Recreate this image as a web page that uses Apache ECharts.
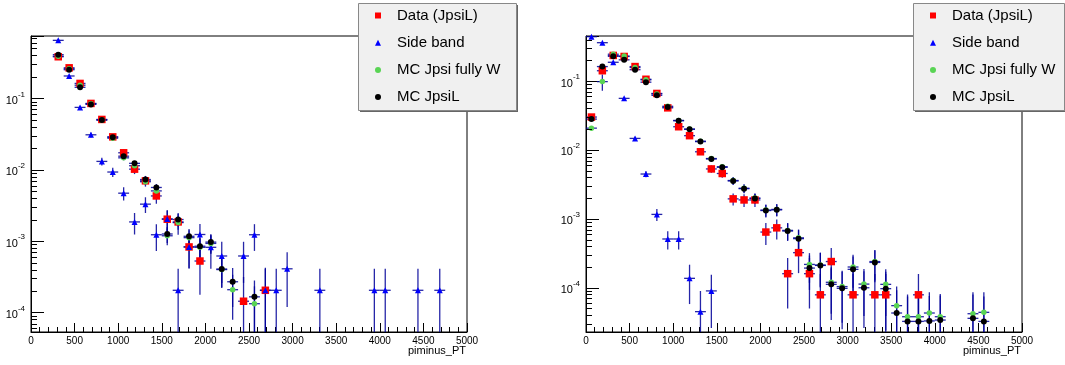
<!DOCTYPE html>
<html><head><meta charset="utf-8">
<script src="https://cdn.jsdelivr.net/npm/echarts@6/dist/echarts.min.js"></script>
<style>html,body{margin:0;padding:0;background:#fff}#c{width:1065px;height:365px}</style>
</head><body><div id="c"></div>
<script>
// ---- data ----
const binCenters = [62.5,187.5,312.5,437.5,562.5,687.5,812.5,937.5,1062.5,1187.5,
  1312.5,1437.5,1562.5,1687.5,1812.5,1937.5,2062.5,2187.5,2312.5,2437.5,
  2562.5,2687.5,2812.5,2937.5,3062.5,3187.5,3312.5,3437.5,3562.5,3687.5,
  3812.5,3937.5,4062.5,4187.5,4312.5,4437.5,4562.5,4687.5,4812.5,4937.5];
const binHalfWidth = 62.5;
const seriesNames = ['Data (JpsiL)','Side band','MC Jpsi fully W','MC JpsiL'];
const xTickLabels = ['0','500','1000','1500','2000','2500','3000','3500','4000','4500','5000'];
const yTickExponents = ['-4','-3','-2','-1'];
const xTitle = 'piminus_PT';

// left panel
const L_data = [null,null,0.383,0.268,0.162,0.085,0.0507,0.0289,0.0173,0.0102,
  0.0070,0.0043,0.00203,0.00186,0.00083,0.000527,null,null,null,0.000144,
  null,0.000205];
const L_dataErr = [null,null,0.009,0.0075,0.0058,0.0042,0.0033,0.0025,0.0019,0.0015,
  0.0012,0.00095,0.00065,0.00063,0.00042,0.00035,null,null,null,0.00017,
  null,0.00022];
const L_side = [null,null,0.65,0.206,0.0748,0.0309,0.0131,0.0093,0.0047,0.00186,
  0.0033,0.00123,0.00205,0.000205,0.00083,0.00124,0.00082,0.00062,null,0.00062,
  0.00123,0.000205,0.000205,0.00041,null,null,0.000205,null,null,null,
  null,0.000205,0.000205,null,null,0.000205,null,0.000205];
const L_sideErr = [null,null,0.0115,0.0065,0.0039,0.0025,0.0016,0.0014,0.00098,0.00062,
  0.00082,0.0005,0.00065,0.000205,0.00041,0.0005,0.00041,0.00036,null,0.00036,
  0.0005,0.000205,0.000205,0.00029,null,null,0.000205,null,null,null,
  null,0.000205,0.000205,null,null,0.000205,null,0.000205];
const L_mcW = [null,null,0.39,0.26,0.153,0.084,0.050,0.0277,0.0147,0.0114,
  0.0068,0.00506,0.00119,0.00182,0.00112,0.00082,0.00093,0.0004,0.000209,null,
  0.000133];
const L_mcWErr = [null,null,0.0055,0.0045,0.0034,0.0026,0.002,0.0015,0.0011,0.00095,
  0.00074,0.00064,0.00031,0.00038,0.0003,0.00026,0.00027,0.00018,0.00013,null,
  0.0001];
const L_mc = [null,null,0.41,0.252,0.143,0.0824,0.0496,0.0286,0.0155,0.0123,
  0.0073,0.00565,0.00126,0.00201,0.00117,0.00085,0.00097,0.000407,0.00027,null,
  0.000166];
const L_mcErr = [null,null,0.0057,0.0045,0.0034,0.0026,0.002,0.0015,0.0011,0.001,
  0.00076,0.00067,0.00032,0.0004,0.00031,0.00026,0.00028,0.00018,0.00015,null,
  0.000115];

// right panel
const R_data = [0.030,0.141,0.235,0.227,0.162,0.106,0.066,0.0408,0.0217,0.0161,
  0.0094,0.0053,0.00455,0.00195,0.00188,0.00188,0.000643,0.00074,0.00016,0.000323,
  0.00016,0.000079,0.00024,null,0.000079,null,0.000079,0.000079,null,null,
  0.000079];
const R_dataErr = [0.0015,0.0033,0.0043,0.0042,0.0036,0.0029,0.0023,0.0018,0.0013,0.0011,
  0.00086,0.00065,0.0006,0.00039,0.00039,0.00039,0.000225,0.00024,0.00011,0.00016,
  0.00011,0.000079,0.000138,null,0.000079,null,0.000079,0.000079,null,null,
  0.000079];
const R_side = [0.44,0.36,0.187,0.056,0.0147,0.00447,0.00116,0.00051,0.00051,0.000137,
  0.000045,0.00009];
const R_sideErr = [0.0044,0.004,0.0029,0.0016,0.00081,0.00045,0.00023,0.00015,0.00015,0.000079,
  0.000045,0.000064];
const R_mcW = [0.0207,0.098,0.245,0.23,0.157,0.104,0.065,0.043,0.0268,0.0201,
  0.0134,0.0075,0.0057,0.0036,0.00278,0.0020,0.00134,0.00137,0.00068,0.00053,
  0.000218,0.000213,0.00012,0.000104,0.0002,0.000113,0.00024,0.000112,0.000055,0.000038,
  0.000038,0.000043,0.000038,null,null,0.000042,0.000044];
const R_mcWErr = [0.0008,0.026,0.0036,0.0034,0.0029,0.0023,0.0018,0.0015,0.0012,0.001,
  0.00085,0.00064,0.00055,0.00044,0.00039,0.00033,0.00027,0.00027,0.00019,0.00017,
  0.0001,0.00011,0.000078,0.000073,0.0001,0.000074,0.000113,0.000073,0.000049,0.000042,
  0.000042,0.000043,0.000043,null,null,0.000044,0.000042];
const R_mc = [0.028,0.162,0.228,0.203,0.146,0.0962,0.062,0.0418,0.0265,0.0199,
  0.0132,0.0074,0.0056,0.00355,0.00274,0.00198,0.00132,0.00135,0.000665,0.000516,
  0.000193,0.000211,0.000112,0.000098,0.000185,0.0001,0.000233,0.000097,0.000043,0.0000325,
  0.0000325,0.000033,0.000034,null,null,0.000036,0.0000325];
const R_mcErr = [0.0012,0.003,0.0035,0.0033,0.0028,0.0023,0.0018,0.0015,0.0012,0.001,
  0.00085,0.00064,0.00055,0.00044,0.00039,0.00033,0.00027,0.00027,0.00019,0.00017,
  0.0001,0.00011,0.000078,0.000073,0.0001,0.000074,0.000113,0.000073,0.000049,0.000042,
  0.000042,0.000043,0.000043,null,null,0.000044,0.000042];

// ---- styling ----
const FONT = "'Liberation Sans', Arial, Helvetica, sans-serif";
const colors = ['#ff0000','#0000ff','#59d454','#000000'];
const symbols = ['rect','triangle','circle','circle'];
const symbolSizes = [7.5,6,5.5,6];
const errColor = '#000099';
const minorMantissas = [2,3,4,5,6,7,8,9];
const decades = [1e-5,1e-4,1e-3,1e-2,1e-1];

const panels = [
  {left:31, yMin:5.34e-5, yMax:0.748, sets:[[L_data,L_dataErr],[L_side,L_sideErr],[L_mcW,L_mcWErr],[L_mc,L_mcErr]], legendX:358, legendW:158},
  {left:586, yMin:2.28e-5, yMax:0.45, sets:[[R_data,R_dataErr],[R_side,R_sideErr],[R_mcW,R_mcWErr],[R_mc,R_mcErr]], legendX:913, legendW:151}
];
const GT = 36, GH = 296, GW = 436;

function pts(vals, errs){
  const out = [];
  vals.forEach((v,i)=>{ if(v!=null) out.push([binCenters[i], v, errs[i]||0]); });
  return out;
}
function minorTicks(min,max){
  const out=[];
  decades.forEach(d=>minorMantissas.forEach(m=>{const v=m*d; if(v>min&&v<max) out.push([0,v]);}));
  return out;
}
function errRender(params, api){
  const x=api.value(0), y=api.value(1), e=api.value(2);
  const c=api.coord([x,y]);
  const lo=api.coord([x, Math.max(y-e, 1e-12)]);
  const hi=api.coord([x, y+e]);
  const l=api.coord([x-binHalfWidth,y]), r=api.coord([x+binHalfWidth,y]);
  const st={stroke:errColor, lineWidth:1.3, opacity:0.85};
  return {type:'group', children:[
    {type:'line', shape:{x1:c[0],y1:lo[1],x2:c[0],y2:hi[1]}, style:st},
    {type:'line', shape:{x1:l[0],y1:c[1],x2:r[0],y2:c[1]}, style:st}
  ]};
}
function minorRender(params, api){
  const p=api.coord([0, api.value(1)]);
  const y=Math.round(p[1])+0.5;
  return {type:'line', shape:{x1:p[0],y1:y,x2:p[0]+6,y2:y}, style:{stroke:'#000',lineWidth:1}};
}

const grid=[], xAxis=[], yAxis=[], series=[], legend=[], graphic=[];
panels.forEach((P,k)=>{
  grid.push({left:P.left, top:GT, width:GW, height:GH, show:true, borderColor:'#000', borderWidth:1, backgroundColor:'transparent'});
  xAxis.push({type:'value', gridIndex:k, min:0, max:5000, interval:500,
    axisLine:{lineStyle:{color:'#000',width:1}},
    axisTick:{inside:true, length:9, lineStyle:{color:'#000'}},
    minorTick:{show:true, splitNumber:5, length:5, lineStyle:{color:'#000'}},
    splitLine:{show:false},
    axisLabel:{color:'#000', fontSize:10, fontFamily:FONT, margin:4,
      formatter:(v)=>{const i=Math.round(v/500); return (Math.abs(v-i*500)<1e-6 && xTickLabels[i]!=null)?xTickLabels[i]:'';}}
  });
  yAxis.push({type:'log', gridIndex:k, min:P.yMin, max:P.yMax, logBase:10,
    axisLine:{lineStyle:{color:'#000',width:1}},
    axisTick:{inside:true, length:13, lineStyle:{color:'#000'}},
    splitLine:{show:false},
    axisLabel:{color:'#000', fontFamily:FONT, margin:6,
      formatter:(v)=>{const lg=Math.log10(v); const r=Math.round(lg);
        if(Math.abs(lg-r)>1e-6) return '';
        const idx=yTickExponents.indexOf(String(r)); if(idx<0) return '';
        return '{b|10}{s|'+yTickExponents[idx]+'}';},
      rich:{b:{fontSize:11, fontFamily:FONT, color:'#000', lineHeight:16, verticalAlign:'bottom'},
            s:{fontSize:8, fontFamily:FONT, color:'#000', lineHeight:11, verticalAlign:'top'}}
    }
  });
  series.push({type:'custom', name:'minor'+k, xAxisIndex:k, yAxisIndex:k, renderItem:minorRender,
    data:minorTicks(P.yMin,P.yMax), silent:true, clip:false, z:3});
  P.sets.forEach((s,j)=>{
    const d=pts(s[0],s[1]);
    series.push({type:'custom', name:'err'+k+'_'+j, xAxisIndex:k, yAxisIndex:k, renderItem:errRender,
      data:d, clip:true, silent:true, z:2});
    series.push({type:'scatter', name:seriesNames[j], xAxisIndex:k, yAxisIndex:k,
      data:d.map(p=>[p[0],p[1]]), symbol:symbols[j], symbolSize:symbolSizes[j],
      itemStyle:{color:colors[j], opacity:1}, clip:true, z:2});
  });
  // legend box
  graphic.push({type:'rect', shape:{x:P.legendX+2, y:5, width:P.legendW, height:107}, style:{fill:'#666'}, z:10});
  graphic.push({type:'rect', shape:{x:P.legendX+0.5, y:3.5, width:P.legendW, height:107}, style:{fill:'#f0f0f0', stroke:'#888', lineWidth:1}, z:11});
  legend.push({orient:'vertical', left:P.legendX+17, top:8, padding:0, itemGap:12.2,
    itemWidth:6, itemHeight:6, z:20, selectedMode:false,
    textStyle:{fontSize:15, fontFamily:FONT, color:'#000', lineHeight:15, padding:[0,0,0,11]},
    data:seriesNames.map((n,j)=>({name:n, icon:symbols[j], itemStyle:{color:colors[j]}}))
  });
  // x title
  graphic.push({type:'text', x:P.left+GW-1, y:351, z:5,
    style:{text:xTitle, font:'11px '+FONT, fill:'#000', textAlign:'right', textVerticalAlign:'middle'}});
});

const chart = echarts.init(document.getElementById('c'), null, {renderer:'canvas'});
chart.setOption({animation:false, backgroundColor:'#fff', grid, xAxis, yAxis, series, legend, graphic});
</script></body></html>
